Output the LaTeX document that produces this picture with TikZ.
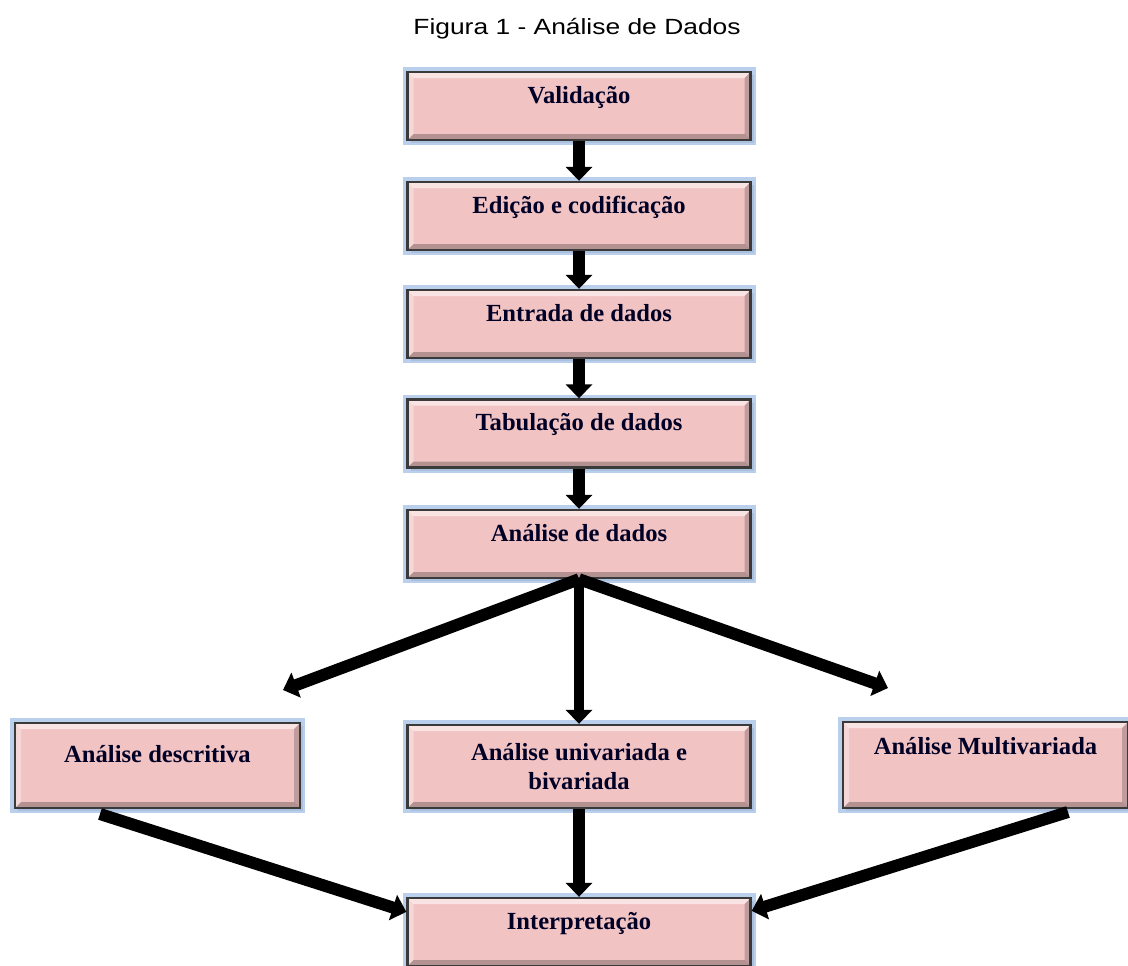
\documentclass[tikz,border=0pt]{standalone}
\usepackage{fontspec}
\setmainfont{Liberation Serif}
\newfontfamily\arialfont{Liberation Sans}
\usepackage{graphicx}
\usepackage{xcolor}
\usepackage{tikz}
\usetikzlibrary{calc,positioning,arrows.meta,shadows}

\definecolor{boxpink}{HTML}{F2C3C3}
\definecolor{boxglow}{HTML}{9DBBE3}
\definecolor{boxedge}{HTML}{3A3A3A}

\begin{document}
\begin{tikzpicture}[x=0.5pt,y=-0.5pt]

\useasboundingbox (0,0) rectangle (1128,965);

\tikzstyle{mybox} = [rectangle, fill=boxpink, draw=boxedge, line width=1.2pt, inner sep=0pt,
  minimum width=171.5pt, minimum height=34pt, text height=15.5pt, text depth=18.5pt,
  align=center, text=black!85!blue, font=\fontsize{12.3}{14.5}\selectfont\bfseries,
  drop shadow={shadow xshift=1.5pt, shadow yshift=-1.5pt, fill=black!40, opacity=0.5},
  preaction={draw=boxglow, line width=5pt, opacity=0.7},
  path picture={
    \path (path picture bounding box.north west) coordinate (bnw)
          (path picture bounding box.south east) coordinate (bse);
    \fill[white,opacity=.55] (bnw) -- (bse |- bnw) -- ++(-3pt,-3pt) -- ($(bnw)+(3pt,-3pt)$) -- cycle;
    \fill[white,opacity=.35] (bnw) -- (bnw |- bse) -- ++(3pt,3pt) -- ($(bnw)+(3pt,-3pt)$) -- cycle;
    \fill[black,opacity=.25] (bse) -- (bnw |- bse) -- ++(3pt,3pt) -- ($(bse)+(-3pt,3pt)$) -- cycle;
    \fill[black,opacity=.2] (bse) -- (bse |- bnw) -- ++(-3pt,-3pt) -- ($(bse)+(-3pt,3pt)$) -- cycle;
  }]
\tikzstyle{myarrow} = [line width=6pt, -{Triangle[width=13pt,length=7pt]}]

% titulo
\node (titulo) [anchor=base, font=\arialfont\fontsize{11}{13}\selectfont] at (577,34) {\scalebox{1.2}[1]{Figura 1 - Análise de Dados}};

% etapas
\node (valid) [mybox] at (579,106) {Validação};
\node (edic) [mybox] at (579,216) {Edição e codificação};
\node (entr) [mybox] at (579,324) {Entrada de dados};
\node (tab) [mybox] at (579,433.5) {Tabulação de dados};
\node (anal) [mybox] at (579,544) {Análise de dados};

\node (desc) [mybox, minimum width=142.5pt, minimum height=42.5pt, text height=19.5pt, text depth=23pt] at (157.5,765.5) {Análise descritiva};
\node (univ) [mybox, minimum height=41.5pt, text height={}, text depth={}] at (579,766.5) {Análise univariada e\\ bivariada};
\node (mult) [mybox, minimum width=142.5pt, minimum height=43pt, text height=16pt, text depth=27pt] at (985.5,765) {Análise Multivariada};

\node (interp) [mybox] at (579,932) {Interpretação};

\foreach \a/\b in {valid/edic, edic/entr, entr/tab, tab/anal}
  \draw[myarrow] (\a) -- (\b);

\coordinate (l) at (283,690);
\coordinate (r) at (888,688);
\draw[myarrow] (anal.south) -- (l);
\draw[myarrow] (anal.south) -- (r);
\draw[myarrow,line width=5pt] (anal.south) -- (univ.north);

\coordinate (dl) at (100,814);
\coordinate (dr) at (1068,812);
\draw[myarrow] (dl) -- ($(interp.north west)+(0,15)$);
\draw[myarrow] (univ) -- (interp);
\draw[myarrow] (dr) -- ($(interp.north east)+(0,14)$);

\end{tikzpicture}
\end{document}
